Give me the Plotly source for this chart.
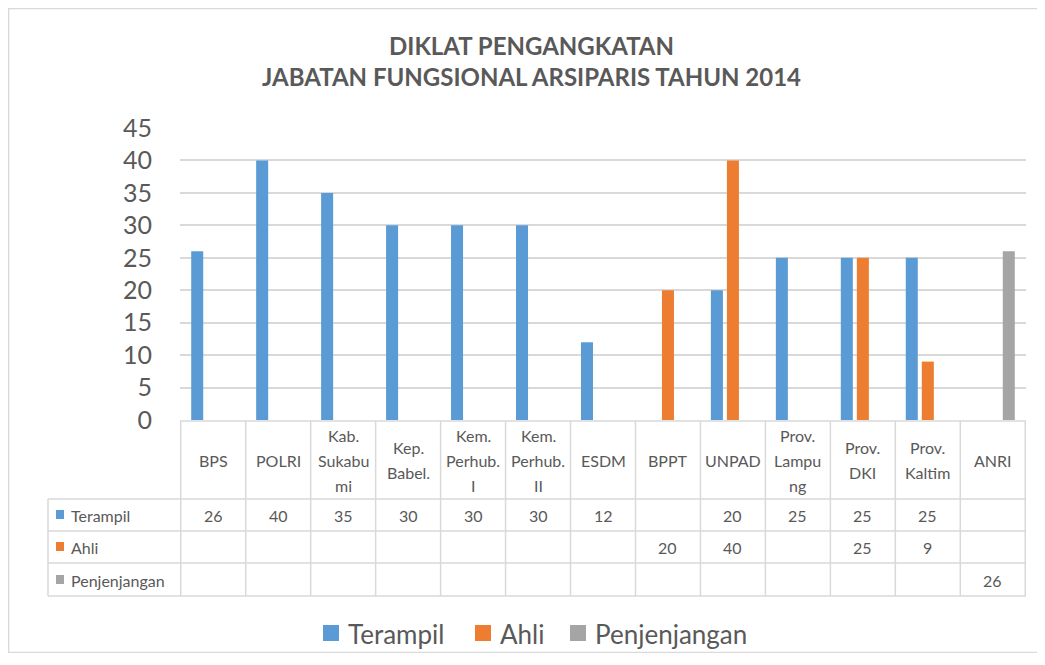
import plotly.graph_objects as go

# data chart
categories = ['BPS', 'POLRI', 'Kab. Sukabumi', 'Kep. Babel.', 'Kem. Perhub. I', 'Kem. Perhub. II',
              'ESDM', 'BPPT', 'UNPAD', 'Prov. Lampung', 'Prov. DKI', 'Prov. Kaltim', 'ANRI']
cat_labels = ['BPS', 'POLRI', 'Kab.<br>Sukabu<br>mi', 'Kep.<br>Babel.', 'Kem.<br>Perhub.<br>I',
              'Kem.<br>Perhub.<br>II', 'ESDM', 'BPPT', 'UNPAD', 'Prov.<br>Lampu<br>ng',
              'Prov.<br>DKI', 'Prov.<br>Kaltim', 'ANRI']
terampil = [26, 40, 35, 30, 30, 30, 12, None, 20, 25, 25, 25, None]
ahli = [None, None, None, None, None, None, None, 20, 40, None, 25, 9, None]
penjenjangan = [None, None, None, None, None, None, None, None, None, None, None, None, 26]

series = [('Terampil', terampil, '#5B9BD5'),
          ('Ahli', ahli, '#ED7D31'),
          ('Penjenjangan', penjenjangan, '#A5A5A5')]

# halaman html punya margin body 8px, jadi figure dibuat sedikit lebih kecil
OFF = 8
W, H = 1045 - 2 * OFF, 665 - 2 * OFF - 4
TXT = '#595959'
GRID = '#d9d9d9'
FONT = 'Lato'

def py(px_y):
    return (H - (px_y - OFF)) / H

def pxx(px_x):
    return (px_x - OFF) / W

fig = go.Figure()
for name, vals, col in series:
    fig.add_trace(go.Bar(x=categories, y=vals, name=name, marker_color=col,
                         marker_line_width=0, showlegend=False))

# tabel data di bawah grafik
shapes = []
row_lines = [421, 499, 531, 563, 596]
for i, yy in enumerate(row_lines):
    x0 = pxx(180) if i == 0 else pxx(48)
    shapes.append(dict(type='line', xref='paper', yref='paper', x0=x0, x1=pxx(1026),
                       y0=py(yy), y1=py(yy), line=dict(color=GRID, width=1.5)))
shapes.append(dict(type='line', xref='paper', yref='paper', x0=pxx(48), x1=pxx(48),
                   y0=py(499), y1=py(596), line=dict(color=GRID, width=1.5)))
for k in range(len(categories) + 1):
    shapes.append(dict(type='line', xref='x', yref='paper', x0=k - 0.5, x1=k - 0.5,
                       y0=py(421), y1=py(596), line=dict(color=GRID, width=1.5)))
# border luar
shapes.append(dict(type='rect', xref='paper', yref='paper', x0=0.6 / W, x1=1.01,
                   y0=0.6 / H, y1=1 - 0.6 / H, line=dict(color=GRID, width=1.5)))

annotations = []
for c, lab in zip(categories, cat_labels):
    lines = lab.split('<br>')
    for j, ln in enumerate(lines):
        yy = 460 + (j - (len(lines) - 1) / 2) * 25
        annotations.append(dict(x=c, xref='x', y=py(yy), yref='paper', text=ln, showarrow=False,
                                font=dict(size=16, color=TXT, family=FONT), yanchor='middle',
                                xanchor='center'))
row_y = [515, 547, 580]
for (name, vals, col), ry in zip(series, row_y):
    shapes.append(dict(type='rect', xref='paper', yref='paper', x0=pxx(56), x1=pxx(64),
                       y0=py(ry + 4), y1=py(ry - 5), fillcolor=col, line=dict(width=0)))
    annotations.append(dict(x=pxx(69), xref='paper', y=py(ry), yref='paper', text=name,
                            showarrow=False, xanchor='left', yanchor='middle',
                            font=dict(size=16, color=TXT, family=FONT)))
    for c, v in zip(categories, vals):
        if v is not None:
            annotations.append(dict(x=c, xref='x', y=py(ry), yref='paper', text=str(v),
                                    showarrow=False, xanchor='center', yanchor='middle',
                                    font=dict(size=16, color=TXT, family=FONT)))

# legenda bawah
leg_pos = [323, 475, 570]
for (name, vals, col), lx in zip(series, leg_pos):
    shapes.append(dict(type='rect', xref='paper', yref='paper', x0=pxx(lx), x1=pxx(lx + 16),
                       y0=py(641), y1=py(625), fillcolor=col, line=dict(width=0)))
    annotations.append(dict(x=pxx(lx + 23), xref='paper', y=py(634), yref='paper', text=name,
                            showarrow=False, xanchor='left', yanchor='middle',
                            font=dict(size=26, color=TXT, family=FONT)))

annotations.append(dict(x=pxx(531), xref='paper', y=py(61), yref='paper',
                        text='<b>DIKLAT PENGANGKATAN</b><br><b>JABATAN FUNGSIONAL ARSIPARIS TAHUN 2014</b>',
                        showarrow=False, xanchor='center', yanchor='middle',
                        font=dict(size=24, color=TXT, family=FONT)))

fig.update_layout(
    width=W, height=H,
    margin=dict(l=0, r=0, t=0, b=0, autoexpand=False),
    paper_bgcolor='white', plot_bgcolor='white',
    barmode='group', bargap=0.26, bargroupgap=0.25,
    font=dict(family=FONT, color=TXT),
    showlegend=False,
    xaxis=dict(domain=[pxx(180), pxx(1026)], showticklabels=False, showgrid=False,
               showline=False, zeroline=False, automargin=False),
    yaxis=dict(domain=[py(420), py(128)], range=[0, 45], dtick=5, gridcolor=GRID,
               gridwidth=1.5, zeroline=False, showline=False, automargin=False,
               tickfont=dict(size=25, color=TXT, family=FONT), ticklabelstandoff=27),
    shapes=shapes,
    annotations=annotations,
)

fig.write_html("out.html")
